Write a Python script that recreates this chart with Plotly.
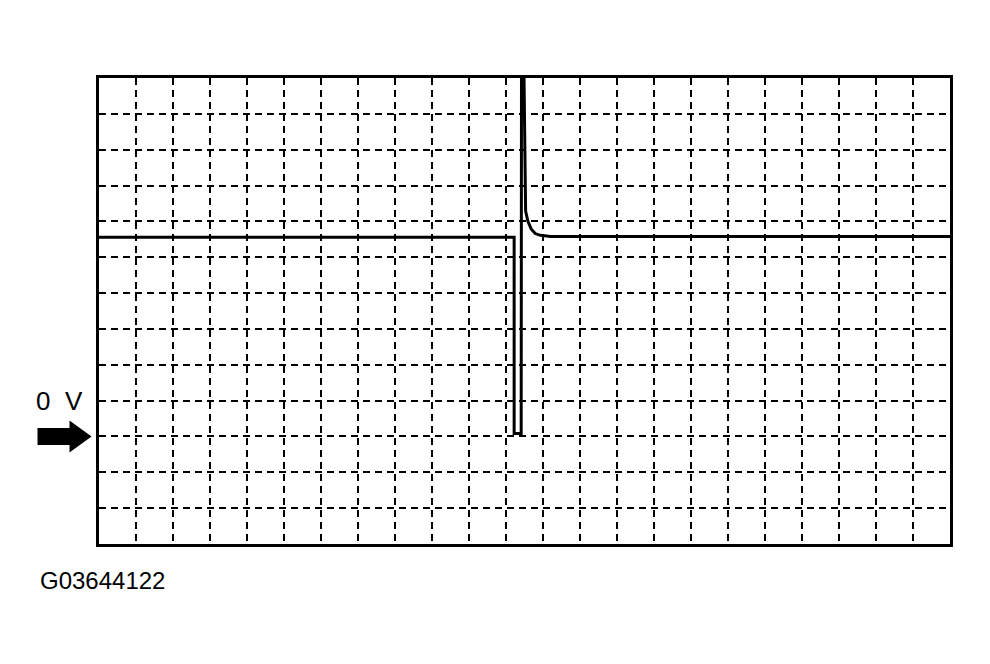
import plotly.graph_objects as go

# Trace in screen divisions (x: time divisions, y: divisions relative to 0 V)
trace_x = [0.0, 11.22, 11.22, 11.41, 11.42, 11.47, 11.53, 11.59, 11.68, 11.79, 11.93, 12.20, 23.0]
trace_y = [5.56, 5.56, 0.08, 0.08, 11.5, 11.5, 6.29, 6.01, 5.79, 5.66, 5.61, 5.58, 5.58]

x_range = [0, 23]
y_range = [-3, 10]
zero_label = "0\u00a0\u00a0V"
figure_code = "G03644122"

fig = go.Figure()
fig.add_trace(go.Scatter(
    x=trace_x, y=trace_y, mode="lines",
    line=dict(color="black", width=3),
    hoverinfo="skip", showlegend=False,
))

axis_common = dict(
    showgrid=True, gridcolor="black", gridwidth=1.8, griddash="7px,5px",
    zeroline=False, showticklabels=False, ticks="",
    showline=True, linecolor="black", linewidth=3, mirror=True,
    dtick=1, fixedrange=True,
)
fig.update_xaxes(range=x_range, tick0=0, **axis_common)
fig.update_yaxes(range=y_range, tick0=0, **axis_common)

# Arrow pointing at 0 V on the left edge (pixel-sized shape anchored on paper)
zero_frac = (0 - y_range[0]) / (y_range[1] - y_range[0])
fig.add_shape(
    type="path", xref="paper", yref="paper",
    xsizemode="pixel", ysizemode="pixel", xanchor=0, yanchor=zero_frac,
    path="M -61.5,-8.5 L -29.5,-8.5 L -29.5,-16 L -7.5,0 L -29.5,16 L -29.5,8.5 L -61.5,8.5 Z",
    fillcolor="black", line=dict(color="black", width=0),
)

fig.add_annotation(
    x=0, y=1, xref="x", yref="y", text=zero_label, showarrow=False,
    xanchor="right", yanchor="middle", xshift=-14,
    font=dict(family="Liberation Sans, Arial, sans-serif", size=26, color="black"),
)
fig.add_annotation(
    x=-0.0715, y=-0.079, xref="paper", yref="paper", text=figure_code, showarrow=False,
    xanchor="left", yanchor="middle",
    font=dict(family="Liberation Sans, Arial, sans-serif", size=24, color="black"),
)

fig.update_layout(
    width=982, height=656,
    margin=dict(l=90.5, r=40, t=70, b=120),
    paper_bgcolor="white", plot_bgcolor="white",
    showlegend=False,
)

fig.write_html("out.html")
